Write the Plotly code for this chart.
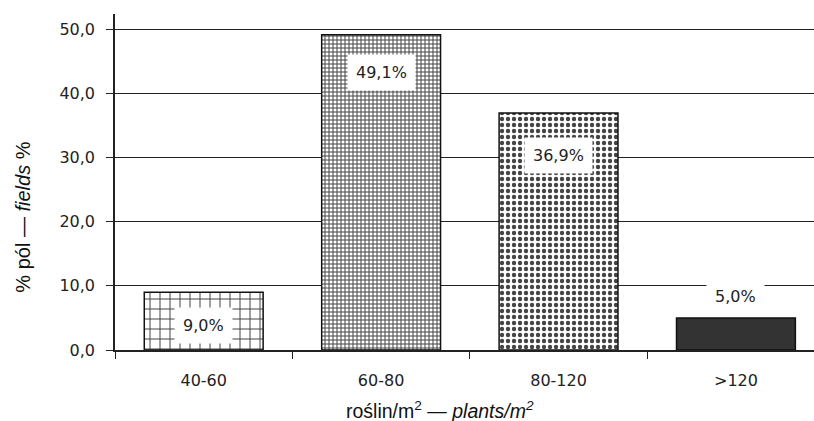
import plotly.graph_objects as go

categories = ["40-60", "60-80", "80-120", ">120"]
values = [9.0, 49.1, 36.9, 5.0]
y_ticks = [0, 10, 20, 30, 40, 50]

labels = [f"{v:.1f}".replace(".", ",") + "%" for v in values]

# styles (not data)
pattern_shapes = ["+", "+", ".", ""]
pattern_sizes = [10, 4, 6, 8]
pattern_solidity = [0.19, 0.44, 0.42, 0.5]
pattern_fg = ["#a8a8a8", "#959595", "#ababab", "#333333"]
bar_colors = ["white", "white", "white", "#333333"]
label_shift = [-33, -38, -42, 21]

TXT = "#222222"
TICKFONT = dict(family="DejaVu Sans", size=16, color=TXT)

fig = go.Figure()
fig.add_trace(go.Bar(
    x=categories, y=values,
    width=0.67,
    marker=dict(
        color=bar_colors,
        line=dict(color="#111111", width=1.5),
        pattern=dict(shape=pattern_shapes, size=pattern_sizes,
                     solidity=pattern_solidity, fgcolor=pattern_fg,
                     fgopacity=1, fillmode="overlay"),
    ),
    showlegend=False,
))

for c, v, t, s in zip(categories, values, labels, label_shift):
    fig.add_annotation(x=c, y=v, text=t, showarrow=False, yshift=s,
                       xref="x", yref="y", yanchor="middle",
                       bgcolor="white", borderpad=8,
                       font=dict(family="DejaVu Sans", size=16, color=TXT))

fig.add_annotation(xref="paper", yref="paper", x=0.465, y=-0.178,
                   xanchor="center", yanchor="middle", showarrow=False,
                   text="roślin/m<sup>2</sup> — <i>plants/m<sup>2</sup></i>",
                   font=dict(family="Liberation Sans, Arial", size=19.5, color="#111111"))
fig.add_annotation(xref="paper", yref="paper", x=-0.132, y=0.396,
                   xanchor="center", yanchor="middle", showarrow=False,
                   textangle=-90,
                   text="% pól — <i>fields</i> %",
                   font=dict(family="Liberation Sans, Arial", size=20, color="#111111"))

fig.update_layout(
    width=814, height=421,
    margin=dict(l=115, r=0, t=14, b=71),
    paper_bgcolor="white", plot_bgcolor="white",
    separators=",.",
    bargap=0.33,
)
fig.update_xaxes(
    type="category", range=[-0.5, 3.44],
    showline=True, linecolor="#222222", linewidth=1.5,
    ticks="outside", tickson="boundaries", ticklen=7, tickcolor="#222222", tickwidth=1.2,
    ticklabelstandoff=15,
    tickfont=TICKFONT, showgrid=False, zeroline=False,
)
fig.update_yaxes(
    range=[0, 52.34], tickvals=y_ticks, tickformat=".1f",
    showline=True, linecolor="#222222", linewidth=1.5,
    ticks="outside", ticklen=7, tickcolor="#222222", tickwidth=1.2,
    ticklabelstandoff=8,
    tickfont=TICKFONT,
    showgrid=True, gridcolor="#222222", gridwidth=1.3, zeroline=False,
)

fig.write_html("out.html")
